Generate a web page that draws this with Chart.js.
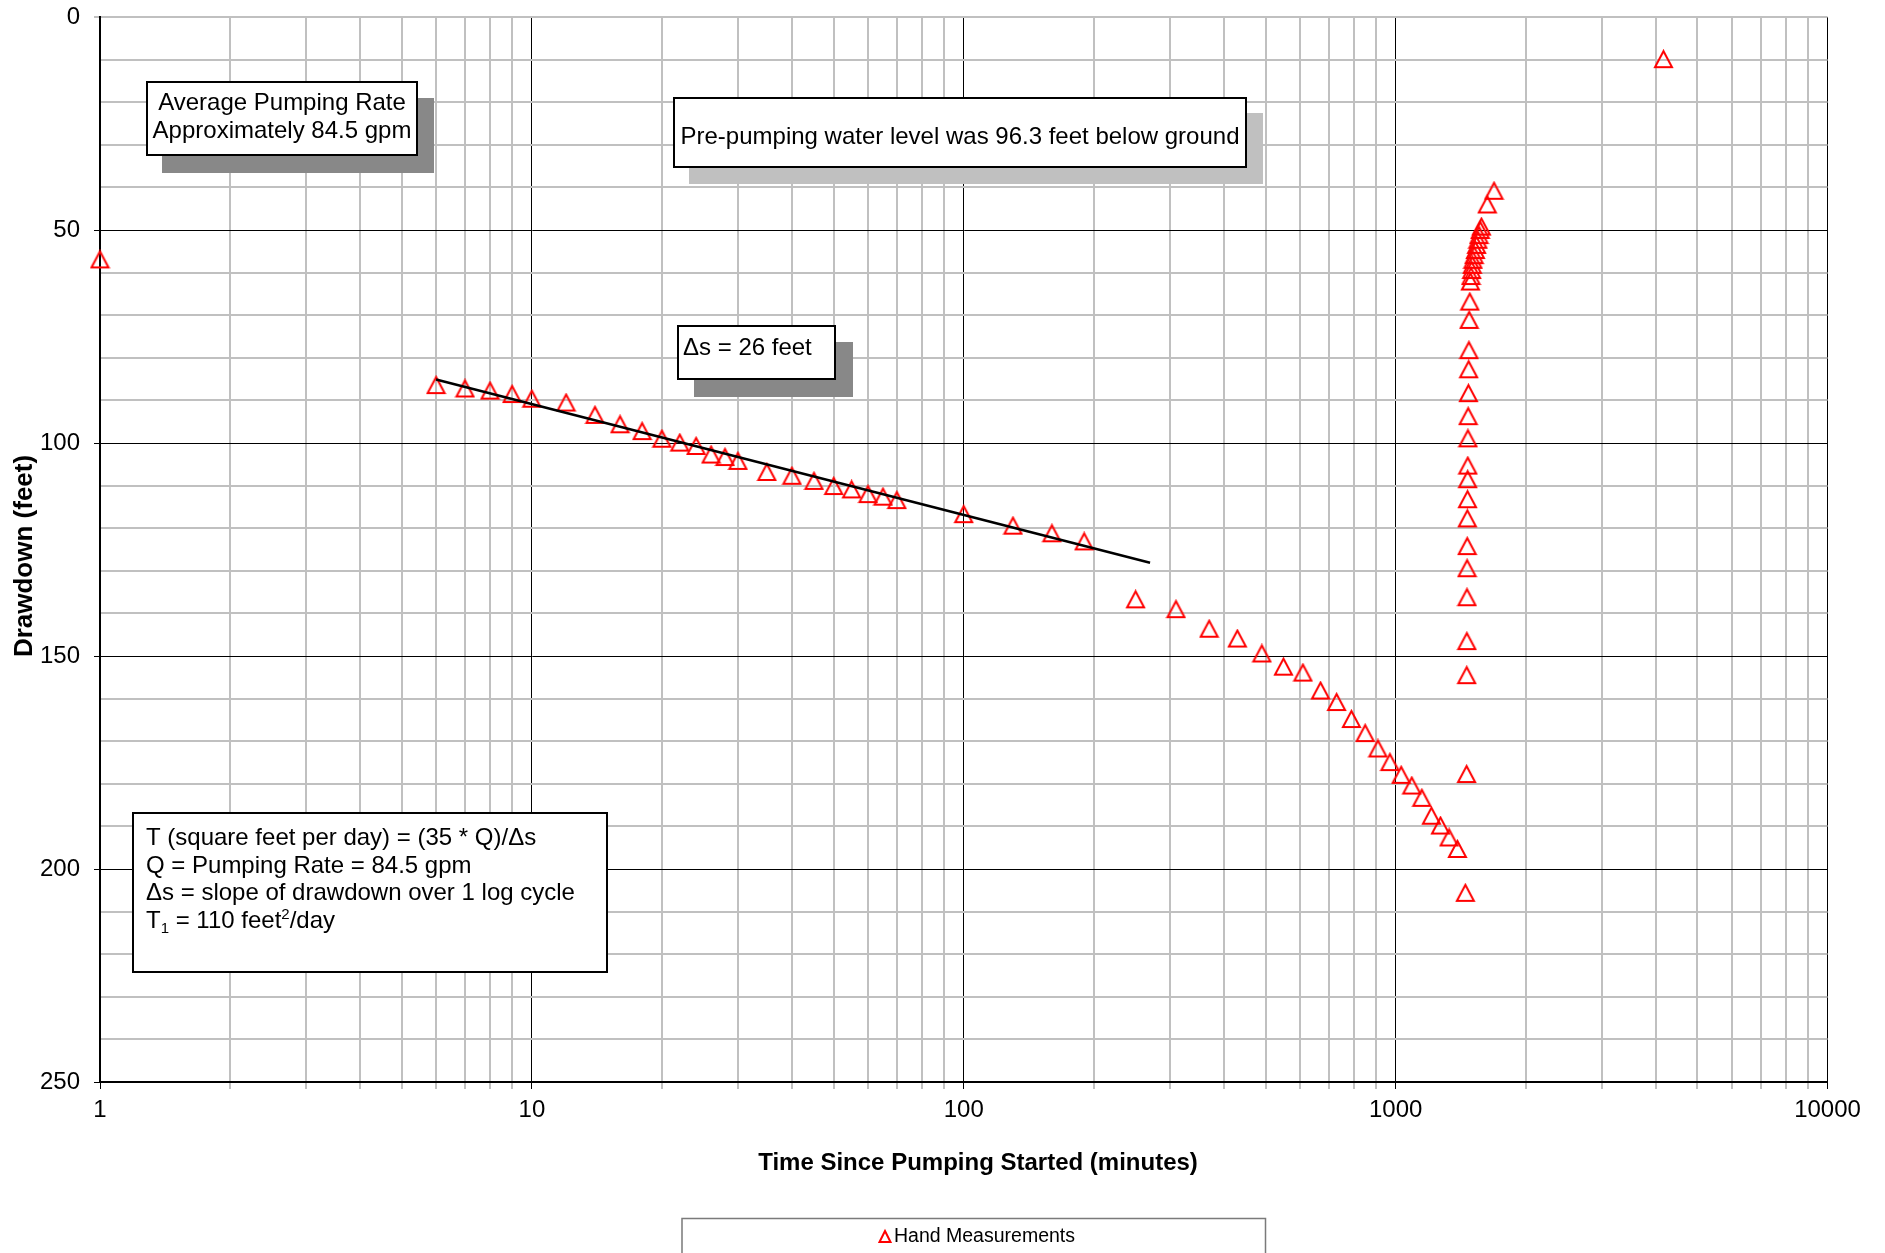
<!DOCTYPE html>
<html>
<head>
<meta charset="utf-8">
<script src="https://cdn.jsdelivr.net/npm/chart.js@4.4.1/dist/chart.umd.min.js"></script>
<style>
html,body{margin:0;padding:0;background:#fff;overflow:hidden}
#wrap{width:1885px;height:1253px;position:relative}
</style>
</head>
<body>
<div id="wrap"><canvas id="c"></canvas></div>
<script>
// ---- data ----
const pumpTime = [1, 6, 7, 8, 9, 10, 12, 14, 16, 18, 20, 22, 24, 26, 28, 30, 35, 40, 45, 50, 55, 60, 65, 70,
  100, 130, 160, 190, 250, 310, 370, 430, 490, 550, 610, 670, 730, 790, 850, 910, 970, 1030, 1090, 1150,
  1210, 1270, 1330, 1390, 1450];
const pumpDrawdown = [56.9, 86.4, 87.2, 87.7, 88.5, 89.6, 90.5, 93.4, 95.6, 97.2, 99.0, 99.9, 100.7, 102.7, 103.3,
  104.2, 106.8, 107.7, 108.9, 110.1, 110.9, 112.0, 112.6, 113.4, 116.7, 119.4, 121.2, 123.1, 136.7, 139.0,
  143.6, 145.9, 149.4, 152.5, 153.9, 158.1, 160.8, 164.8, 168.1, 171.7, 174.9, 177.9, 180.4, 183.3, 187.5,
  189.8, 192.6, 195.3, 205.6];
const recoveryTime = [1460, 1461, 1462, 1463, 1464, 1465, 1466, 1467, 1468, 1469, 1470, 1472, 1474, 1476, 1478,
  1480, 1485, 1490, 1495, 1500, 1505, 1510, 1520, 1530, 1540, 1550, 1560, 1570, 1580, 1630, 1690, 4170];
const recoveryDrawdown = [177.7, 154.5, 146.5, 136.2, 129.4, 124.2, 117.7, 113.2, 108.5, 105.3, 98.9, 93.7, 88.3,
  82.7, 78.2, 71.1, 66.8, 62.1, 60.8, 59.4, 58.2, 57.0, 55.9, 54.7, 53.5, 52.3, 51.2, 50.0, 49.2, 44.0, 40.8, 9.9];
const fitLineTime = [6, 270];
const fitLineDrawdown = [85.1, 128.1];

const xDecades = [1, 10, 100, 1000, 10000];
const xTickLabels = ['1', '10', '100', '1000', '10000'];
const yTickLabels = [0, 50, 100, 150, 200, 250];
const seriesName = 'Hand Measurements';
const xTitle = 'Time Since Pumping Started (minutes)';
const yTitle = 'Drawdown (feet)';
const noteRate = ['Average Pumping Rate', 'Approximately 84.5 gpm'];
const noteLevel = 'Pre-pumping water level was 96.3 feet below ground';
const noteSlope = '\u0394s = 26 feet';
const noteFormula = ['T (square feet per day) = (35 * Q)/\u0394s', 'Q = Pumping Rate = 84.5 gpm',
  '\u0394s = slope of drawdown over 1 log cycle'];

// ---- rendering ----
const FONT = '"Liberation Sans", Arial, Helvetica, sans-serif';
Chart.defaults.font.family = FONT;
Chart.defaults.color = '#000';

function makeTri(w, h, lw, color) {
  const c = document.createElement('canvas');
  c.width = w; c.height = h;
  const g = c.getContext('2d');
  g.strokeStyle = color; g.lineWidth = lw; g.lineJoin = 'miter';
  g.beginPath();
  g.moveTo(w / 2, lw);
  g.lineTo(w - lw, h - lw);
  g.lineTo(lw, h - lw);
  g.closePath();
  g.stroke();
  return c;
}
const triImg = makeTri(21, 20, 2, '#ff0000');

const pts = (xs, ys) => xs.map((x, i) => ({x: x, y: ys[i]}));
const isDecade = v => xDecades.indexOf(v) >= 0;

function drawBox(g, x, y, w, h, shadow, sdx, sdy) {
  if (shadow) { g.fillStyle = shadow; g.fillRect(x + sdx, y + sdy, w + 2, h + 2); }
  g.fillStyle = '#fff'; g.fillRect(x, y, w, h);
  g.strokeStyle = '#000'; g.lineWidth = 2; g.strokeRect(x, y, w, h);
}

const notesPlugin = {
  id: 'notes',
  afterDraw(chart) {
    const g = chart.ctx;
    g.save();
    g.textBaseline = 'alphabetic';
    const f24 = '24px ' + FONT;

    // Average pumping rate box
    drawBox(g, 147, 82, 270, 73, '#888888', 15, 16);
    g.fillStyle = '#000'; g.font = f24; g.textAlign = 'center';
    g.fillText(noteRate[0], 282, 110);
    g.fillText(noteRate[1], 282, 138);

    // Pre-pumping box
    drawBox(g, 674, 98, 572, 69, '#c0c0c0', 15, 15);
    g.fillStyle = '#000'; g.textAlign = 'center';
    g.fillText(noteLevel, 960, 144);

    // slope box
    drawBox(g, 678, 326, 157, 53, '#888888', 16, 16);
    g.fillStyle = '#000'; g.textAlign = 'left';
    g.fillText(noteSlope, 683, 355);

    // formula box
    drawBox(g, 133, 813, 474, 159, null, 0, 0);
    g.fillStyle = '#000'; g.textAlign = 'left';
    const bl = [845, 872.7, 900.3, 928];
    noteFormula.forEach((t, i) => g.fillText(t, 146, bl[i]));
    // T1 = 110 feet2/day with sub/superscript
    let x = 146;
    const seg = (txt, font, dy) => { g.font = font; g.fillText(txt, x, bl[3] + dy); x += g.measureText(txt).width; };
    seg('T', f24, 0);
    seg('1', '15px ' + FONT, 5);
    seg(' = 110 feet', f24, 0);
    seg('2', '15px ' + FONT, -9);
    seg('/day', f24, 0);

    // axis titles
    g.font = 'bold 24px ' + FONT;
    g.textAlign = 'center'; g.textBaseline = 'middle';
    g.fillText(xTitle, 978, 1163);
    g.save();
    g.font = 'bold 26px ' + FONT;
    g.translate(24.5, 556);
    g.rotate(-Math.PI / 2);
    g.fillText(yTitle, 0, 0);
    g.restore();

    // legend
    g.strokeStyle = '#7a7a7a'; g.lineWidth = 1.5;
    g.strokeRect(682, 1218.5, 583.5, 60);
    g.strokeStyle = '#ff0000'; g.lineWidth = 2;
    g.beginPath();
    g.moveTo(885, 1231); g.lineTo(890.5, 1242); g.lineTo(879.5, 1242); g.closePath(); g.stroke();
    g.fillStyle = '#000'; g.font = '19.5px ' + FONT; g.textAlign = 'left'; g.textBaseline = 'middle';
    g.fillText(seriesName, 894, 1237);
    g.restore();
  }
};

new Chart(document.getElementById('c'), {
  type: 'scatter',
  data: {
    datasets: [
      {
        label: 'fit',
        data: pts(fitLineTime, fitLineDrawdown),
        showLine: true,
        borderColor: '#000',
        borderWidth: 2.5,
        pointRadius: 0,
        pointHoverRadius: 0,
        fill: false
      },
      {
        label: seriesName,
        data: pts(pumpTime.concat(recoveryTime), pumpDrawdown.concat(recoveryDrawdown)),
        pointStyle: triImg,
        pointRadius: 10,
        pointHoverRadius: 10,
        borderColor: '#ff0000',
        backgroundColor: 'rgba(0,0,0,0)',
        showLine: false,
        clip: false
      }
    ]
  },
  options: {
    responsive: true,
    maintainAspectRatio: false,
    animation: false,
    devicePixelRatio: 1,
    events: [],
    layout: {padding: {left: 0, right: 57.5, top: 17, bottom: 0}},
    plugins: {legend: {display: false}, tooltip: {enabled: false}},
    scales: {
      x: {
        type: 'logarithmic',
        position: 'bottom',
        min: 1,
        max: 10000,
        afterBuildTicks: s => {
          const t = [];
          for (let i = 0; i < xDecades.length - 1; i++) {
            for (let m = 1; m < 10; m++) t.push({value: xDecades[i] * m});
          }
          t.push({value: xDecades[xDecades.length - 1]});
          s.ticks = t;
        },
        afterFit: s => { s.height = 171; s.paddingLeft = 0; s.paddingRight = 0; },
        border: {display: true, color: '#000', width: 2},
        grid: {
          color: c => isDecade(c.tick && c.tick.value) ? '#000' : '#c0c0c0',
          lineWidth: c => isDecade(c.tick && c.tick.value) ? 1 : 2,
          tickLength: 7,
          drawTicks: true
        },
        ticks: {
          autoSkip: false,
          maxRotation: 0,
          padding: 7,
          font: {size: 24},
          color: '#000',
          callback: v => { const i = xDecades.indexOf(v); return i >= 0 ? xTickLabels[i] : ''; }
        }
      },
      y: {
        type: 'linear',
        reverse: true,
        min: 0,
        max: 250,
        afterFit: s => { s.width = 100; s.paddingTop = 0; s.paddingBottom = 0; },
        border: {display: true, color: '#000', width: 2},
        grid: {
          color: c => (c.tick.value % 50 === 0 && c.tick.value !== 0) ? '#000' : '#c0c0c0',
          lineWidth: c => (c.tick.value % 50 === 0 && c.tick.value !== 0) ? 1 : 2,
          tickLength: 6,
          tickColor: c => c.tick.value % 50 === 0 ? (c.tick.value === 0 ? '#c0c0c0' : '#000') : 'rgba(0,0,0,0)'
        },
        ticks: {
          stepSize: 10,
          autoSkip: false,
          padding: 14,
          font: {size: 24},
          color: '#000',
          callback: v => yTickLabels.indexOf(v) >= 0 ? String(v) : ''
        }
      }
    }
  },
  plugins: [notesPlugin]
});
</script>
</body>
</html>
